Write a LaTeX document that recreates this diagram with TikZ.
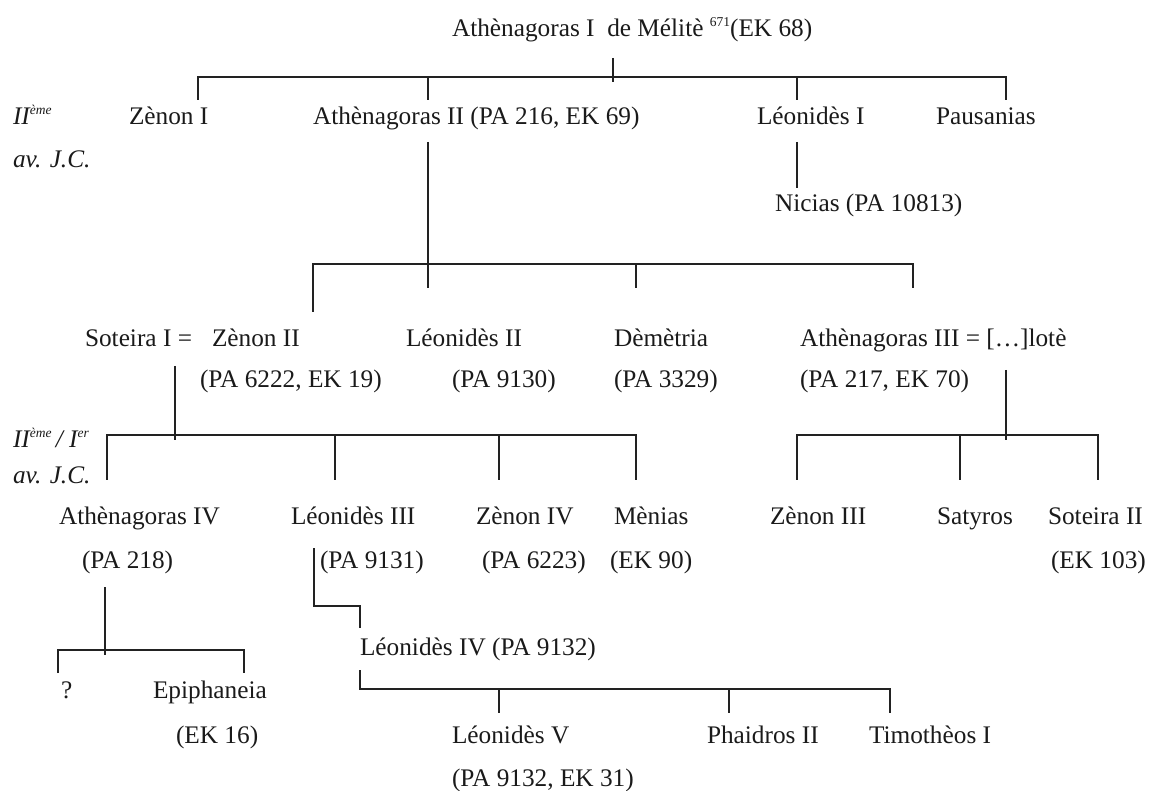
\documentclass[tikz,border=0pt]{standalone}
\usepackage{fontspec}
\setmainfont{Liberation Serif}
\newcommand{\supx}[1]{\raisebox{0.40em}{\fontsize{13.5}{13.5}\selectfont #1}}
\definecolor{txt}{HTML}{1A1A1A}
\definecolor{lnc}{HTML}{222222}
\tikzset{
  lbl/.style={anchor=base west, inner sep=0pt, outer sep=0pt, text=txt,
              font=\fontsize{25.3}{30}\selectfont},
  era/.style={lbl, font=\fontsize{25.3}{30}\selectfont\itshape},
  ln/.style={draw=lnc, line width=1.4pt}
}
\begin{document}
\begin{tikzpicture}[x=1pt, y=-1pt]
\useasboundingbox (0,0) rectangle (1152,791);
% ---------- texts ----------
\node[lbl] (t0)  at (452,37)  {Athènagoras I\ \ de Mélitè \supx{671}(EK 68)};
\node[era] (e1)  at (13,125)  {II\supx{ème}};
\node[era] (e1b) at (13,168)  {av. J.C.};
\node[lbl] (z1)  at (129,125) {Zènon I};
\node[lbl] (a2)  at (313,125) {Athènagoras II (PA 216, EK 69)};
\node[lbl] (l1)  at (757,125) {Léonidès I};
\node[lbl] (pa)  at (936,125) {Pausanias};
\node[lbl] (ni)  at (775,212) {Nicias (PA 10813)};
\node[lbl] (s1)  at (85,347)  {Soteira I =};
\node[lbl] (z2)  at (212,347) {Zènon II};
\node[lbl] (l2)  at (406,347) {Léonidès II};
\node[lbl] (de)  at (614,347) {Dèmètria};
\node[lbl] (a3)  at (800,347) {Athènagoras III = […]lotè};
\node[lbl] (z2b) at (200,388) {(PA 6222, EK 19)};
\node[lbl] (l2b) at (452,388) {(PA 9130)};
\node[lbl] (deb) at (614,388) {(PA 3329)};
\node[lbl] (a3b) at (800,388) {(PA 217, EK 70)};
\node[era] (e2)  at (13,448)  {II\supx{ème}\,/ I\supx{er}};
\node[era] (e2b) at (13,484)  {av. J.C.};
\node[lbl] (a4)  at (59,525)  {Athènagoras IV};
\node[lbl] (l3)  at (291,525) {Léonidès III};
\node[lbl] (z4)  at (476,525) {Zènon IV};
\node[lbl] (me)  at (614,525) {Mènias};
\node[lbl] (z3)  at (770,525) {Zènon III};
\node[lbl] (sa)  at (937,525) {Satyros};
\node[lbl] (so)  at (1048,525) {Soteira II};
\node[lbl] (a4b) at (82,568)  {(PA 218)};
\node[lbl] (l3b) at (320,568) {(PA 9131)};
\node[lbl] (z4b) at (482,568) {(PA 6223)};
\node[lbl] (meb) at (610,568) {(EK 90)};
\node[lbl] (sob) at (1051,568) {(EK 103)};
\node[lbl] (q)   at (61,698)  {?};
\node[lbl] (ep)  at (153,698) {Epiphaneia};
\node[lbl] (epb) at (176,743) {(EK 16)};
\node[lbl] (l4)  at (360,655) {Léonidès IV (PA 9132)};
\node[lbl] (l5)  at (452,743) {Léonidès V};
\node[lbl] (l5b) at (452,786) {(PA 9132, EK 31)};
\node[lbl] (ph)  at (707,743) {Phaidros II};
\node[lbl] (ti)  at (869,743) {Timothèos I};
% ---------- joints ----------
% generation 1
\coordinate (g1u) at (613,58);  \coordinate (g1d) at (613,82);
\coordinate (g1L) at (198,77);  \coordinate (g1R) at (1006,77);
\coordinate (g1a) at (428,77);  \coordinate (g1b) at (797,77);
\coordinate (z1t) at (198,100); \coordinate (a2t) at (428,100);
\coordinate (l1t) at (797,100); \coordinate (pat) at (1006,100);
% Athenagoras II and Leonides I descents
\coordinate (a2d) at (428,142); \coordinate (a2e) at (428,288);
\coordinate (l1d) at (797,142); \coordinate (nit) at (797,188);
% generation 2
\coordinate (g2L) at (313,264); \coordinate (g2R) at (913,264);
\coordinate (g2d) at (636,264);
\coordinate (z2t) at (313,312); \coordinate (det) at (636,288); \coordinate (a3t) at (913,288);
% Soteira / Zenon II children
\coordinate (s1d) at (175,366); \coordinate (s1e) at (175,440);
\coordinate (g3L) at (107,435); \coordinate (g3R) at (636,435);
\coordinate (g3b) at (335,435); \coordinate (g3c) at (499,435);
\coordinate (a4t) at (107,480); \coordinate (l3t) at (335,480);
\coordinate (z4t) at (499,480); \coordinate (met) at (636,480);
% Athenagoras III children
\coordinate (a3d) at (1006,370); \coordinate (a3e) at (1006,440);
\coordinate (g4L) at (797,435);  \coordinate (g4R) at (1098,435);
\coordinate (g4b) at (960,435);
\coordinate (z3t) at (797,480);  \coordinate (sat) at (960,480); \coordinate (sot) at (1098,480);
% Athenagoras IV children
\coordinate (a4d) at (105,587); \coordinate (a4e) at (105,655);
\coordinate (g5L) at (58,650);  \coordinate (g5R) at (244,650);
\coordinate (qt)  at (58,673);  \coordinate (ept) at (244,673);
% Leonides III -> IV
\coordinate (l3d) at (314,548); \coordinate (l3k) at (314,606);
\coordinate (l4k) at (360,606); \coordinate (l4t) at (360,628);
% Leonides IV children
\coordinate (l4d) at (360,670); \coordinate (g6L) at (360,689);
\coordinate (g6R) at (890,689);
\coordinate (g6a) at (499,689); \coordinate (g6b) at (729,689);
\coordinate (l5t) at (499,713); \coordinate (pht) at (729,713); \coordinate (tit) at (890,713);
% ---------- connectors ----------
\draw[ln] (g1u) -- (g1d);
\draw[ln] (z1t) -- (g1L) -- (g1R) -- (pat);
\draw[ln] (g1a) -- (a2t);
\draw[ln] (g1b) -- (l1t);
\draw[ln] (a2d) -- (a2e);
\draw[ln] (l1d) -- (nit);
\draw[ln] (z2t) -- (g2L) -- (g2R) -- (a3t);
\draw[ln] (g2d) -- (det);
\draw[ln] (s1d) -- (s1e);
\draw[ln] (a4t) -- (g3L) -- (g3R) -- (met);
\draw[ln] (g3b) -- (l3t);
\draw[ln] (g3c) -- (z4t);
\draw[ln] (a3d) -- (a3e);
\draw[ln] (z3t) -- (g4L) -- (g4R) -- (sot);
\draw[ln] (g4b) -- (sat);
\draw[ln] (a4d) -- (a4e);
\draw[ln] (qt) -- (g5L) -- (g5R) -- (ept);
\draw[ln] (l3d) -- (l3k) -- (l4k) -- (l4t);
\draw[ln] (l4d) -- (g6L) -- (g6R) -- (tit);
\draw[ln] (g6a) -- (l5t);
\draw[ln] (g6b) -- (pht);
\end{tikzpicture}
\end{document}
